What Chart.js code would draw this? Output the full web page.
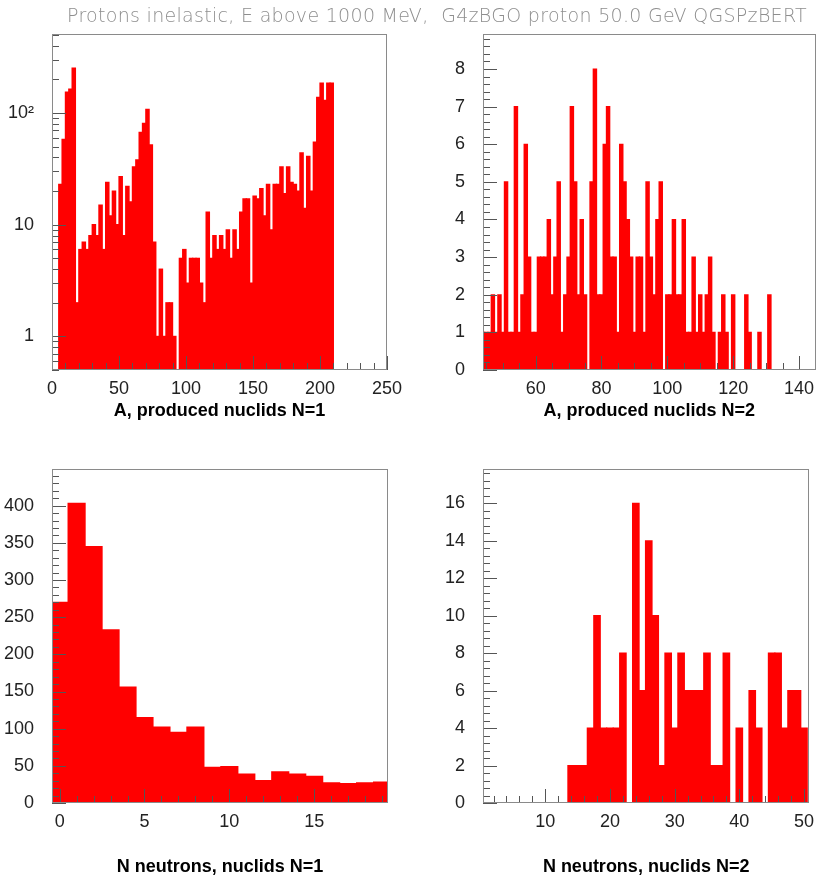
<!DOCTYPE html>
<html>
<head>
<meta charset="utf-8">
<script src="https://cdn.jsdelivr.net/npm/chart.js@4.4.1/dist/chart.umd.min.js"></script>
<style>
  html, body { margin: 0; padding: 0; background: #fff; overflow: hidden; }
  #page { position: relative; width: 819px; height: 875px; overflow: hidden; }
  #page canvas { position: absolute; }
  #title { position: absolute; left: 67px; top: 4px; z-index: 2; white-space: pre; letter-spacing: 0.3px;
           font: 200 19px "DejaVu Sans", sans-serif; color: #8e8e8e; }
</style>
</head>
<body>
<div id="page">
  <canvas id="aN1" width="410" height="440" style="left:0;top:0"></canvas>
  <canvas id="aN2" width="412" height="440" style="left:410px;top:0"></canvas>
  <canvas id="nN1" width="410" height="435" style="left:0;top:440px"></canvas>
  <canvas id="nN2" width="412" height="435" style="left:410px;top:440px"></canvas>
  <div id="title">Protons inelastic, E above 1000 MeV,  G4zBGO proton 50.0 GeV QGSPzBERT</div>
</div>
<script>
// bin contents; each histogram: low edge of first bin, bin width, counts
const aN1Low = 5, aN1Width = 2.5;
const aN1Counts = [23, 58, 154, 164, 253, 2, 6, 7, 6, 8,
  10, 8, 15, 6, 24, 12, 20, 10, 27, 8,
  22, 16, 33, 38, 67, 81, 108, 52, 7, 1,
  4, 1, 2, 2, 1, 0, 5, 6, 3, 5,
  5, 5, 3, 2, 13, 5, 8, 6, 8, 6,
  9, 5, 9, 6, 13, 17, 17, 3, 18, 17,
  21, 12, 23, 9, 23, 23, 33, 19, 33, 24,
  23, 20, 44, 14, 41, 20, 55, 138, 185, 130,
  185, 185];

const aN2Low = 43.5, aN2Width = 1;
const aN2Counts = [1, 1, 1, 2, 1, 2, 1, 5, 1, 1,
  7, 1, 2, 6, 3, 1, 1, 3, 3, 3,
  4, 2, 3, 5, 1, 2, 3, 7, 5, 2,
  4, 2, 0, 5, 8, 2, 2, 6, 7, 3,
  3, 1, 6, 5, 4, 3, 1, 3, 3, 1,
  5, 3, 2, 4, 5, 0, 2, 2, 4, 2,
  2, 4, 1, 1, 3, 1, 2, 1, 2, 3,
  1, 0, 1, 2, 1, 0, 2, 0, 0, 0,
  2, 1, 0, 0, 1, 0, 0, 2];

const nN1Low = -0.5, nN1Width = 1;
const nN1Counts = [270, 403, 345, 233, 156, 115, 102, 95, 102, 48,
  49, 39, 30, 42, 39, 36, 27, 26, 27, 28];

const nN2Low = 13.5, nN2Width = 1;
const nN2Counts = [2, 2, 2, 4, 10, 4, 4, 4, 8, 0,
  16, 6, 14, 10, 2, 8, 4, 8, 6, 6,
  6, 8, 2, 2, 8, 0, 4, 0, 6, 4,
  0, 8, 8, 4, 6, 6, 4];

// axis tick labels
const aN1XTicks = [0, 50, 100, 150, 200, 250];
const aN1YTicks = [1, 10, 100];
const aN1YLabels = ['1', '10', '10\u00B2'];
const aN2XTicks = [60, 80, 100, 120, 140];
const aN2YTicks = [0, 1, 2, 3, 4, 5, 6, 7, 8];
const nN1XTicks = [0, 5, 10, 15];
const nN1YTicks = [0, 50, 100, 150, 200, 250, 300, 350, 400];
const nN2XTicks = [10, 20, 30, 40, 50];
const nN2YTicks = [0, 2, 4, 6, 8, 10, 12, 14, 16];

const RED = 'rgb(255,0,0)';
const FONT = '"Liberation Sans", Arial, sans-serif';

function points(low, width, counts, log) {
  return counts.map((c, i) => ({ x: low + width * (i + 0.5), y: (log && c === 0) ? null : c }));
}

function isMult(v, step) {
  const r = v / step;
  return Math.abs(r - Math.round(r)) < 1e-6;
}

// ROOT-like frame with inward major/minor ticks, drawn over the bars
const rootFrame = {
  id: 'rootFrame',
  afterDatasetsDraw(chart, args, o) {
    const { ctx, chartArea: a, scales: { x, y } } = chart;
    ctx.save();
    ctx.lineWidth = 1;
    ctx.strokeStyle = '#555';
    ctx.beginPath();
    for (let i = Math.ceil(x.min / o.xMinor - 1e-6); i * o.xMinor <= x.max + 1e-6; i++) {
      const v = i * o.xMinor;
      const px = Math.round(x.getPixelForValue(v)) + 0.5;
      const len = isMult(v, o.xMajor) ? 14 : 7;
      ctx.moveTo(px, a.bottom);
      ctx.lineTo(px, a.bottom - len);
    }
    const yv = [];
    if (o.yLog) {
      for (let d = -1; d <= 3; d++) {
        for (let m = 1; m <= 9; m++) {
          const v = m * Math.pow(10, d);
          if (v >= y.min && v <= y.max) yv.push([v, m === 1]);
        }
      }
    } else {
      for (let i = 0; i * o.yMinor <= y.max + 1e-6; i++) {
        const v = i * o.yMinor;
        yv.push([v, isMult(v, o.yMajor)]);
      }
    }
    yv.forEach(([v, major]) => {
      const py = Math.round(y.getPixelForValue(v)) + 0.5;
      ctx.moveTo(a.left, py);
      ctx.lineTo(a.left + (major ? 14 : 7), py);
    });
    ctx.stroke();
    ctx.strokeStyle = '#8a8a8a';
    ctx.strokeRect(Math.round(a.left) + 0.5, Math.round(a.top) + 0.5,
      Math.round(a.width) - 1, Math.round(a.height) - 1);
    ctx.restore();
  }
};

function histo(id, h) {
  new Chart(document.getElementById(id), {
    type: 'bar',
    data: {
      datasets: [{
        data: h.data,
        backgroundColor: RED,
        borderWidth: 0,
        barPercentage: 1,
        categoryPercentage: 1,
        inflateAmount: 0.6
      }]
    },
    options: {
      responsive: false,
      animation: false,
      events: [],
      layout: { padding: h.pad, autoPadding: false },
      plugins: {
        legend: { display: false },
        tooltip: { enabled: false },
        rootFrame: h.frame
      },
      scales: {
        x: {
          type: 'linear',
          offset: false,
          min: h.xMin,
          max: h.xMax,
          grid: { display: false, drawTicks: false },
          border: { display: false },
          afterBuildTicks: s => { s.ticks = h.xTicks.map(v => ({ value: v })); },
          afterFit: s => { s.height = h.xH; },
          ticks: {
            autoSkip: false, maxRotation: 0, padding: 8, color: '#222',
            font: { family: FONT, size: 18 },
            callback: v => String(v)
          },
          title: {
            display: true, text: h.label, color: '#000',
            font: { family: FONT, size: 18, weight: 'bold', lineHeight: 1 },
            padding: { top: 0, bottom: h.titlePad }
          }
        },
        y: {
          type: h.yLog ? 'logarithmic' : 'linear',
          min: h.yMin,
          max: h.yMax,
          grid: { display: false, drawTicks: false },
          border: { display: false },
          afterBuildTicks: s => { s.ticks = h.yTicks.map(v => ({ value: v })); },
          afterFit: s => { s.width = h.yW; },
          ticks: {
            autoSkip: false, padding: 18, color: '#222',
            font: { family: FONT, size: 18 },
            callback: (v, i) => h.yLabels ? h.yLabels[i] : String(v)
          }
        }
      }
    },
    plugins: [rootFrame]
  });
}

histo('aN1', {
  data: points(aN1Low, aN1Width, aN1Counts, true),
  label: 'A, produced nuclids N=1',
  xMin: 0, xMax: 250, yMin: 0.5, yMax: 510, yLog: true,
  xTicks: aN1XTicks, yTicks: aN1YTicks, yLabels: aN1YLabels,
  pad: { left: 0, right: 22, top: 34, bottom: 0 }, yW: 52, xH: 70, titlePad: 20,
  frame: { xMinor: 10, xMajor: 50, yLog: true }
});

histo('aN2', {
  data: points(aN2Low, aN2Width, aN2Counts, false),
  label: 'A, produced nuclids N=2',
  xMin: 44, xMax: 145.06, yMin: 0, yMax: 8.93,
  xTicks: aN2XTicks, yTicks: aN2YTicks,
  pad: { left: 0, right: 0, top: 34, bottom: 0 }, yW: 73, xH: 70, titlePad: 20,
  frame: { xMinor: 5, xMajor: 20, yMinor: 0.2, yMajor: 1 }
});

histo('nN1', {
  data: points(nN1Low, nN1Width, nN1Counts, false),
  label: 'N neutrons, nuclids N=1',
  xMin: -0.45, xMax: 19.35, yMin: 0, yMax: 449.6,
  xTicks: nN1XTicks, yTicks: nN1YTicks,
  pad: { left: 0, right: 22, top: 26, bottom: 0 }, yW: 52, xH: 72, titlePad: -1,
  frame: { xMinor: 1, xMajor: 5, yMinor: 10, yMajor: 50 }
});

histo('nN2', {
  data: points(nN2Low, nN2Width, nN2Counts, false),
  label: 'N neutrons, nuclids N=2',
  xMin: 0.37, xMax: 50.82, yMin: 0, yMax: 17.84,
  xTicks: nN2XTicks, yTicks: nN2YTicks,
  pad: { left: 0, right: 0, top: 26, bottom: 0 }, yW: 73, xH: 72, titlePad: -1,
  frame: { xMinor: 2, xMajor: 10, yMinor: 0.4, yMajor: 2 }
});
</script>
</body>
</html>
